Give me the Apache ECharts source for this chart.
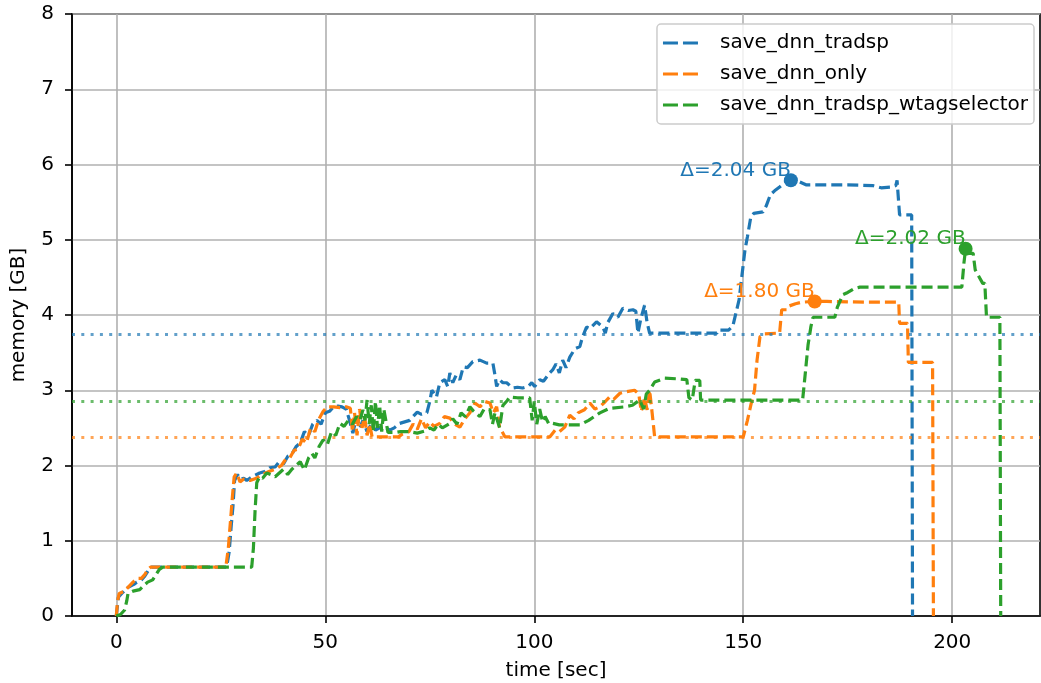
<!DOCTYPE html>
<html><head><meta charset="utf-8">
<script src="https://cdn.jsdelivr.net/npm/echarts@6/dist/echarts.min.js"></script>
<style>html,body{margin:0;padding:0;background:#fff}#c{width:1041px;height:683px}</style>
</head><body><div id="c"></div>
<script>
const seriesNames = ['save_dnn_tradsp', 'save_dnn_only', 'save_dnn_tradsp_wtagselector'];
const colors = ['#1f77b4', '#ff7f0e', '#2ca02c'];
const xTicks = [0, 50, 100, 150, 200];

const tradspT = [0,0.5,1.3,2.8,4.2,4.9,6,6.8,7.6,8.4,26.4,27.0,27.5,27.9,28.3,29.0,29.6,30.5,31.2,32.5,34.3,35.5,36.7,38,39,40,41,42,43,44,45,46,47,48,49,50,51,52,53,54,55,55.8,56.6,57.5,58.3,59,60,61,62,63,64,65.4,66.5,67.8,69,70.2,71,72,73,74.3,75,75.5,76.6,77.4,78.6,79.3,79.8,80.5,81.3,82.2,83,84,85.3,87,88.6,90.1,90.6,91,91.7,92.5,93.4,94.8,96,97.2,98.5,99.4,100.1,101.3,102.2,103,103.7,104.4,105.2,106,106.8,107.6,108.5,109.7,110.9,111.5,112.5,113.3,114.9,116.4,117,117.6,118.8,120,121.2,122.5,123.6,124.3,124.8,125.5,126.4,127,127.6,143.7,144,146.5,147.5,149,150.4,151,151.8,152.5,154.7,155.5,156.5,157.5,158.7,160,161.4,163,165,170,175,181,183,185.5,186.5,186.8,187.4,190.3,190.5];
const tradspM = [0,0.25,0.3,0.38,0.42,0.45,0.48,0.53,0.6,0.65,0.65,0.85,1.2,1.45,1.8,1.88,1.82,1.83,1.8,1.85,1.9,1.92,1.97,1.98,2.05,2.02,2.12,2.15,2.25,2.3,2.45,2.4,2.55,2.6,2.55,2.7,2.72,2.78,2.79,2.78,2.75,2.6,2.43,2.65,2.5,2.6,2.45,2.55,2.47,2.5,2.52,2.47,2.5,2.56,2.58,2.6,2.65,2.71,2.68,2.7,2.85,3.0,2.91,3.1,3.14,3.05,3.23,3.1,3.2,3.14,3.31,3.3,3.38,3.4,3.36,3.36,3.2,3.05,3.14,3.1,3.1,3.03,3.04,3.03,3.05,3.1,3.05,3.14,3.12,3.18,3.23,3.27,3.35,3.23,3.4,3.3,3.44,3.55,3.58,3.7,3.84,3.82,3.91,3.84,3.76,3.9,4.02,3.97,4.09,4.06,4.07,4.05,3.76,3.95,4.13,3.9,3.76,3.76,3.8,3.8,3.85,4.2,4.86,5.04,5.3,5.35,5.37,5.45,5.6,5.65,5.7,5.76,5.79,5.78,5.73,5.73,5.73,5.72,5.69,5.7,5.72,5.79,5.33,5.33,0];

const onlyT = [0,0.3,0.7,2,2.8,4,5,6,6.8,7.6,8.2,26.2,26.8,27.3,27.8,28.2,28.8,29.6,30.5,32,33.5,35,36.5,38,39.5,40.5,41.5,42.5,43.5,44.5,45.5,46.5,47.5,48.5,49.5,50.5,52,53.5,55,56,56.5,57,57.6,58.2,58.8,59.4,60,60.6,61.2,67.5,68.5,70,71,72,73,74,75,76,77.4,78.5,79.8,81,82.2,83.4,84.6,85.8,87,88.2,89.4,90.2,91,91.7,92.3,93,103.7,105,106,107.3,108.5,109.5,110.5,112,113.3,114.5,115.7,117,118,119,120.5,122,124,125,125.6,126.4,127,127.6,128.2,128.8,150,151,152,152.7,153.3,154,155,158.7,159.2,160.4,161,162.5,164,167.1,170,180,187.2,187.4,189.3,189.5,195.3,195.5];
const onlyM = [0,0.2,0.3,0.33,0.38,0.45,0.5,0.5,0.55,0.62,0.65,0.65,0.9,1.25,1.6,1.85,1.9,1.78,1.82,1.8,1.83,1.88,1.92,1.95,2.0,2.08,2.1,2.2,2.22,2.35,2.3,2.5,2.45,2.62,2.72,2.78,2.78,2.77,2.78,2.76,2.45,2.7,2.4,2.75,2.5,2.65,2.4,2.55,2.38,2.38,2.42,2.45,2.55,2.48,2.62,2.5,2.58,2.52,2.56,2.65,2.63,2.55,2.51,2.62,2.7,2.83,2.78,2.85,2.83,2.7,2.78,2.51,2.45,2.38,2.38,2.47,2.45,2.51,2.67,2.62,2.7,2.74,2.83,2.75,2.78,2.85,2.91,2.88,2.96,2.98,3.0,2.95,2.72,2.9,2.74,3.0,2.7,2.38,2.38,2.6,2.85,3.0,3.4,3.71,3.75,3.76,4.07,4.07,4.12,4.15,4.17,4.18,4.18,4.17,4.17,3.89,3.89,3.37,3.37,0];

const wtagT = [0,1,2,2.5,2.8,4,5.6,6.5,7.5,8.7,9.5,10.3,11.1,32.4,32.8,33.2,33.6,34.3,35,36,37,38,39,40,41,42,43,44,45,46,46.8,47.5,48.5,49.5,50.5,51.5,52.5,53.5,54.5,55.5,56.5,57.5,58.3,59,59.5,60,60.5,61,61.5,62,62.5,63,63.5,64,65,67,68,70,72,74,75,76,77,78,79.8,80.5,81.5,82.5,83.5,84.6,85.5,87,88,89.4,90,90.6,91.7,92.5,93.5,94.1,96,98.9,99.5,100,100.6,101.3,102,102.6,103.5,104.4,106,111,113,115.7,118,121.7,123.5,125.2,126.2,126.8,127.6,128.8,131.2,134.8,136.5,137,137.8,138.5,139.6,139.8,164.2,164.8,165.5,166.2,166.7,171.9,172.5,173.8,175,176.5,177.9,202.3,202.8,203.2,204,205,205.5,207.3,207.8,208.2,211.4,211.6];
const wtagM = [0,0.02,0.08,0.2,0.3,0.33,0.35,0.4,0.45,0.48,0.55,0.62,0.65,0.65,0.9,1.4,1.77,1.85,1.83,1.9,1.88,1.85,1.9,1.95,1.88,1.95,2.0,2.05,1.94,2.1,2.16,2.1,2.25,2.34,2.28,2.45,2.4,2.56,2.52,2.6,2.55,2.65,2.6,2.74,2.6,2.87,2.55,2.8,2.45,2.85,2.5,2.8,2.45,2.75,2.44,2.44,2.45,2.45,2.43,2.46,2.5,2.47,2.55,2.5,2.56,2.62,2.55,2.7,2.65,2.78,2.72,2.65,2.75,2.74,2.55,2.7,2.5,2.8,2.86,2.91,2.9,2.9,2.6,2.85,2.55,2.75,2.58,2.65,2.55,2.56,2.54,2.54,2.6,2.7,2.76,2.78,2.8,2.87,2.75,2.95,3.0,3.11,3.16,3.15,3.14,2.9,2.87,3.13,3.13,2.87,2.87,3.2,3.6,3.85,3.97,3.97,4.1,4.27,4.3,4.35,4.37,4.37,4.69,4.88,4.82,4.82,4.6,4.42,4.42,3.97,3.97,0];

const baselines = [3.75, 2.38, 2.86];
const peakT = [161.4, 167.1, 203.2];
const peakM = [5.79, 4.18, 4.88];
const peakLabels = ['Δ=2.04 GB', 'Δ=1.80 GB', 'Δ=2.02 GB'];

const FONT = 'DejaVu Sans';
const FS = 20;
const zip = (a, b) => a.map((v, i) => [v, b[i]]);
const lineData = [zip(tradspT, tradspM), zip(onlyT, onlyM), zip(wtagT, wtagM)];

const series = [];
seriesNames.forEach((name, i) => {
  series.push({
    name: name, type: 'line', data: lineData[i],
    showSymbol: false, symbol: 'none', z: 3 + i,
    lineStyle: { color: colors[i], width: 3.2, type: [11, 5] },
    itemStyle: { color: colors[i] },
    emphasis: { disabled: true },
    markLine: {
      silent: true, symbol: 'none', animation: false,
      label: { show: false },
      lineStyle: { color: colors[i], width: 3, type: [3, 6.3], opacity: 0.7 },
      data: [{ yAxis: baselines[i] }]
    }
  });
});
seriesNames.forEach((name, i) => {
  series.push({
    name: name + '_peak', type: 'scatter', data: [[peakT[i], peakM[i]]],
    symbolSize: 14, z: 10,
    itemStyle: { color: colors[i], opacity: 1 },
    emphasis: { disabled: true },
    label: {
      show: true, formatter: peakLabels[i], position: [7, 7],
      align: 'right', verticalAlign: 'bottom',
      color: colors[i], fontSize: FS, fontFamily: FONT
    }
  });
});

const axisCommon = {
  axisLine: { show: true, onZero: false, lineStyle: { color: '#000', width: 1.6 } },
  axisTick: { show: true, length: 7, lineStyle: { color: '#000', width: 1.6 } },
  splitLine: { show: true, lineStyle: { color: '#b0b0b0', width: 1.6 } },
  nameTextStyle: { fontSize: FS, color: '#000', fontFamily: FONT },
};

const chart = echarts.init(document.getElementById('c'), null, { renderer: 'canvas' });
chart.setOption({
  animation: false,
  backgroundColor: '#fff',
  textStyle: { fontFamily: FONT },
  grid: { left: 72, right: 1, top: 14, bottom: 67, show: true, borderColor: '#000', borderWidth: 1.6,
          containLabel: false, outerBoundsMode: 'none' },
  legend: {
    data: seriesNames, orient: 'vertical', right: 7, top: 24,
    itemWidth: 39, itemHeight: 3, itemGap: 11,
    padding: [9, 6, 9, 6],
    backgroundColor: 'rgba(255,255,255,0.8)',
    borderColor: '#cccccc', borderWidth: 1.5, borderRadius: 4,
    icon: 'path://M0,0H15V3H0Z M20,0H35V3H20Z',
    itemStyle: { borderWidth: 0 },
    selectedMode: false,
    textStyle: { fontSize: FS, color: '#000', fontFamily: FONT, lineHeight: 20, padding: [0, 0, 0, 15] }
  },
  xAxis: Object.assign({}, axisCommon, {
    type: 'value', min: -10.6, max: 221,
    name: 'time [sec]', nameLocation: 'middle', nameGap: 45,
    axisTick: Object.assign({}, axisCommon.axisTick, { customValues: xTicks }),
    axisLabel: { customValues: xTicks, fontSize: FS, color: '#000', margin: 17, fontFamily: FONT }
  }),
  yAxis: Object.assign({}, axisCommon, {
    type: 'value', min: 0, max: 8, interval: 1,
    name: 'memory [GB]', nameLocation: 'middle', nameGap: 43,
    axisLabel: { fontSize: FS, color: '#000', margin: 18, fontFamily: FONT }
  }),
  series: series
});
</script>
</body></html>
